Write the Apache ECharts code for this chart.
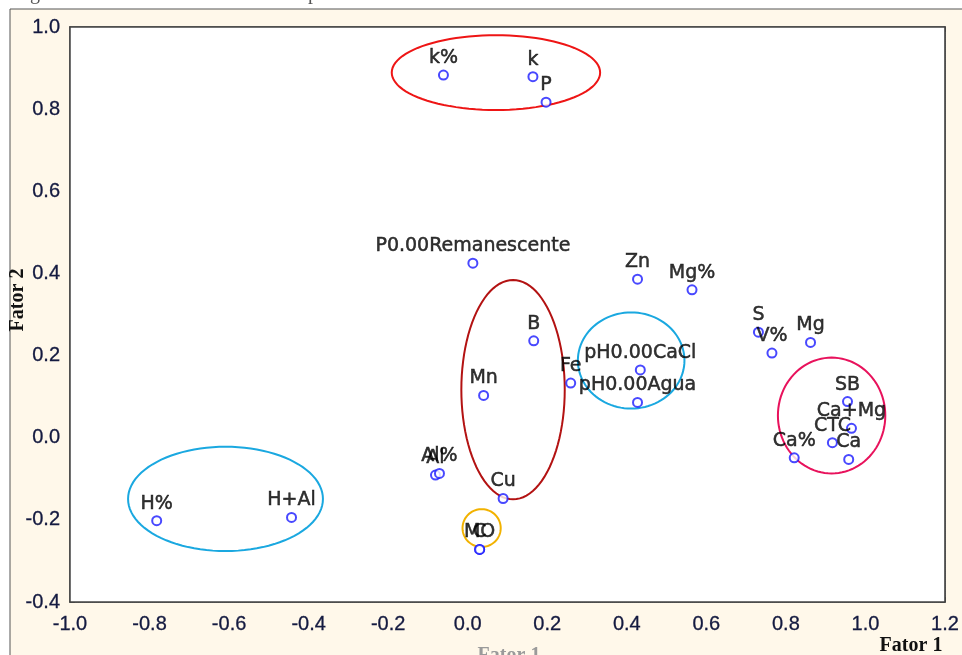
<!DOCTYPE html>
<html><head><meta charset="utf-8">
<script src="https://cdn.jsdelivr.net/npm/echarts@6/dist/echarts.min.js"></script>
<style>html,body{margin:0;padding:0;background:#fff}#c{width:962px;height:655px}</style>
</head><body><div id="c"></div>
<script>
// ---- data ----
const names  = ['k%','k','P','P0.00Remanescente','Zn','Mg%','B','pH0.00CaCl','Fe','Mn','pH0.00Agua','S','V%','Mg','SB','Ca+Mg','CTC','Ca','Ca%','Al','Al%','Cu','MO','C','H%','H+Al'];
const fator1 = [-0.061,0.164,0.197,0.013,0.427,0.564,0.166,0.434,0.259,0.040,0.427,0.731,0.765,0.862,0.955,0.965,0.917,0.958,0.821,-0.081,-0.071,0.089,0.030,0.030,-0.782,-0.443];
const fator2 = [0.883,0.879,0.817,0.425,0.386,0.360,0.236,0.165,0.133,0.103,0.086,0.257,0.206,0.232,0.088,0.023,-0.012,-0.053,-0.049,-0.091,-0.087,-0.148,-0.272,-0.272,-0.202,-0.194];

// grouping ellipses (data units)
const ellCx = [0.071, 0.114, 0.411, 0.915, -0.609, 0.035];
const ellCy = [0.889, 0.117, 0.188, 0.054, -0.149, -0.220];
const ellRx = [0.262, 0.130, 0.134, 0.135, 0.245, 0.048];
const ellRy = [0.091, 0.267, 0.117, 0.141, 0.127, 0.046];
const ellColor = ['#ee1515','#b31212','#1aa8e0','#e8125c','#1aa8e0','#f2b200'];

const xMin = -1.0, xMax = 1.2, yMin = -0.4, yMax = 1.0, step = 0.2;

const chart = echarts.init(document.getElementById('c'), null, {renderer:'canvas'});
const tickFont = {fontFamily:'Liberation Sans, Arial, sans-serif', fontSize:20, color:'#141a40', textBorderColor:'#141a40', textBorderWidth:0.3};
const axisLineStyle = {color:'#444', width:1.5};

chart.setOption({
  backgroundColor:'#ffffff',
  animation:false,
  grid:{left:70, right:13, top:27, bottom:53, show:true, backgroundColor:'#ffffff', borderColor:'#444', borderWidth:1.5, z:1},
  xAxis:[{
    type:'value', min:xMin, max:xMax, interval:step, position:'bottom',
    axisLine:{show:true, onZero:false, lineStyle:axisLineStyle},
    axisTick:{show:true, inside:true, length:5, lineStyle:{color:'#444'}},
    axisLabel:Object.assign({margin:12, formatter:v=>v.toFixed(1)}, tickFont),
    splitLine:{show:true, lineStyle:{color:'#bdbdbd', type:'dotted', width:1}}
  },{
    type:'value', min:xMin, max:xMax, interval:step, position:'top',
    axisLine:{show:true, onZero:false, lineStyle:axisLineStyle},
    axisTick:{show:true, inside:true, length:5, lineStyle:{color:'#444'}},
    axisLabel:{show:false}, splitLine:{show:false}
  }],
  yAxis:[{
    type:'value', min:yMin, max:yMax, interval:step, position:'left',
    axisLine:{show:true, onZero:false, lineStyle:axisLineStyle},
    axisTick:{show:true, inside:true, length:5, lineStyle:{color:'#444'}},
    axisLabel:Object.assign({margin:10, formatter:v=>v.toFixed(1)}, tickFont),
    splitLine:{show:true, lineStyle:{color:'#bdbdbd', type:'dotted', width:1}}
  },{
    type:'value', min:yMin, max:yMax, interval:step, position:'right',
    axisLine:{show:true, onZero:false, lineStyle:axisLineStyle},
    axisTick:{show:true, inside:true, length:5, lineStyle:{color:'#444'}},
    axisLabel:{show:false}, splitLine:{show:false}
  }],
  graphic:[
    {type:'rect', z:-10, shape:{x:10,y:9,width:952,height:646}, style:{fill:'#fff8ea'}},
    {type:'line', z:-9, shape:{x1:10,y1:9,x2:962,y2:9}, style:{stroke:'#555', lineWidth:1}},
    {type:'line', z:-9, shape:{x1:10,y1:9,x2:10,y2:655}, style:{stroke:'#555', lineWidth:1}},
    {type:'text', left:30, top:-16, style:{text:'g', font:'20px "Liberation Serif", serif', fill:'#555'}},
    {type:'text', left:308, top:-16, style:{text:'p', font:'20px "Liberation Serif", serif', fill:'#555'}},
    {type:'text', x:18, y:300, rotation:Math.PI/2, style:{text:'Fator 2', font:'bold 20px "Liberation Serif", serif', fill:'#111', align:'center', verticalAlign:'middle'}},
    {type:'text', x:911, y:656, style:{text:'Fator 1', font:'bold 20px "Liberation Serif", serif', fill:'#111', align:'center', verticalAlign:'bottom'}},
    {type:'text', x:509, y:646, style:{text:'Fator 1', font:'bold 20px "Liberation Serif", serif', fill:'#9a9a9a', align:'center', verticalAlign:'top'}}
  ],
  series:[{
    type:'custom', xAxisIndex:0, yAxisIndex:0, z:3, silent:true,
    data: ellCx.map((c,i)=>[c, ellCy[i], ellRx[i], ellRy[i], i]),
    renderItem:function(params, api){
      const cx = api.value(0), cy = api.value(1), rx = api.value(2), ry = api.value(3);
      const idx = api.value(4);
      const pts = [];
      for(let k=0;k<96;k++){
        const t = k/96*Math.PI*2;
        pts.push(api.coord([cx + rx*Math.cos(t), cy + ry*Math.sin(t)]));
      }
      return {type:'polygon', shape:{points:pts}, style:{fill:'none', stroke:ellColor[idx], lineWidth:2}};
    }
  },{
    type:'scatter', xAxisIndex:0, yAxisIndex:0, z:5,
    symbol:'emptyCircle', symbolSize:9,
    itemStyle:{color:'#1a1aff', borderColor:'#1a1aff', borderWidth:1.2},
    label:{show:true, position:'top', distance:2, formatter:'{b}', fontFamily:'DejaVu Sans, sans-serif', fontSize:19, color:'#000', textBorderColor:'#000', textBorderWidth:0.5},
    labelLayout:{hideOverlap:false},
    data: names.map((n,i)=>({name:n, value:[fator1[i], fator2[i]]}))
  }]
});
</script>
</body></html>
